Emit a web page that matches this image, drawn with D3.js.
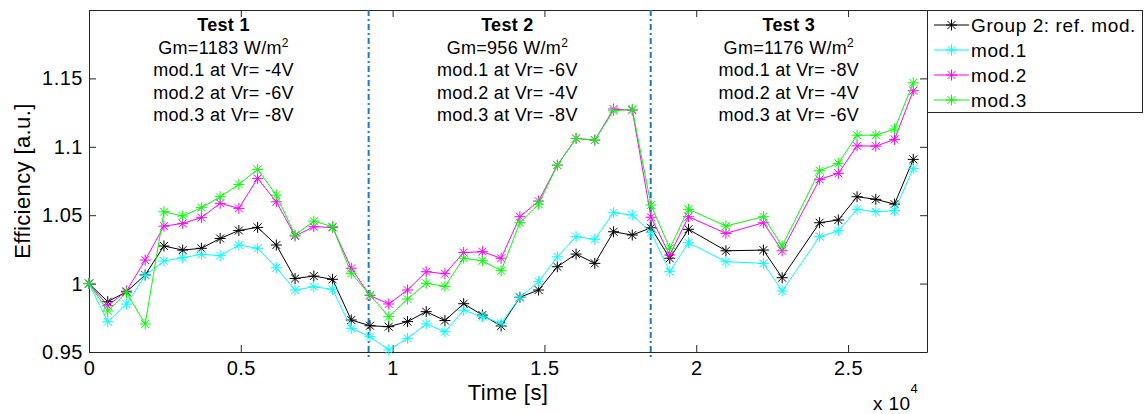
<!DOCTYPE html>
<html>
<head>
<meta charset="utf-8">
<script src="https://cdn.jsdelivr.net/npm/d3@7"></script>
<style>
  html, body { margin: 0; padding: 0; background: #fff; }
  svg { display: block; font-family: "Liberation Sans", Arial, Helvetica, sans-serif; }
</style>
</head>
<body>
<svg id="chart" width="1145" height="414"></svg>
<script>
// Sample times [s] (a few intervals in Test 3 have no record)
const timeSec = [0, 617, 1234, 1851, 2468, 3085, 3702, 4319, 4936, 5553, 6170, 6787, 7404, 8021, 8638,
  9255, 9872, 10489, 11106, 11723, 12340, 12957, 13574, 14191, 14808, 15425, 16042, 16659, 17276, 17893,
  18510, 19127, 19744, 20978, 22212, 22829, 24063, 24680, 25297, 25914, 26531, 27148];

// Normalised efficiency per module
const refMod = [1.000, 0.9868, 0.994, 1.0063, 1.0275, 1.0245, 1.0258, 1.033, 1.0388, 1.0411, 1.0282, 1.0037, 1.0055, 1.0031, 0.9734,
  0.9692, 0.9685, 0.9722, 0.9795, 0.9730, 0.9853, 0.977, 0.969, 0.990, 0.9953, 1.0123, 1.0216, 1.0148, 1.0379, 1.0355,
  1.0408, 1.0185, 1.0397, 1.024, 1.0245, 1.0043, 1.0445, 1.0465, 1.0635, 1.0616, 1.0581, 1.0908];
const mod1 = [1.000, 0.9721, 0.985, 1.006, 1.0165, 1.0189, 1.0214, 1.0204, 1.0282, 1.0258, 1.0116, 0.9953, 0.9977, 0.9958, 0.9673,
  0.9612, 0.9515, 0.960, 0.9705, 0.9648, 0.9805, 0.9758, 0.971, 0.990, 1.0014, 1.0196, 1.0343, 1.0324, 1.0518, 1.0501,
  1.0373, 1.0087, 1.0299, 1.016, 1.0148, 0.9946, 1.0343, 1.0386, 1.0543, 1.0525, 1.0533, 1.0842];
const mod2 = [1.000, 0.9838, 0.9945, 1.0172, 1.042, 1.044, 1.0482, 1.0587, 1.055, 1.0769, 1.0598, 1.0348, 1.0416, 1.0411, 1.0112,
  0.9912, 0.9851, 0.9953, 1.0087, 1.0072, 1.0227, 1.0233, 1.0185, 1.0489, 1.0603, 1.0866, 1.1061, 1.1049, 1.1276, 1.1268,
  1.0485, 1.0209, 1.0489, 1.0367, 1.0445, 1.024, 1.0762, 1.0806, 1.1007, 1.1005, 1.1054, 1.141];
const mod3 = [1.000, 0.980, 0.9934, 0.9705, 1.0525, 1.0494, 1.0555, 1.0635, 1.0725, 1.0835, 1.0647, 1.0355, 1.0457, 1.0416, 1.0075,
  0.9917, 0.9758, 0.9887, 1.0002, 0.998, 1.0185, 1.0167, 1.0094, 1.0445, 1.0581, 1.0866, 1.1061, 1.1049, 1.1263, 1.1274,
  1.0574, 1.0258, 1.0543, 1.0421, 1.0489, 1.0275, 1.0825, 1.0879, 1.1085, 1.1085, 1.113, 1.1468];

const seriesNames = ["Group 2: ref. mod.", "mod.1", "mod.2", "mod.3"];
const seriesValues = [refMod, mod1, mod2, mod3];
const seriesColors = ["#000000", "#00ffff", "#ff00ff", "#00ff00"];

const xTickValues = [0, 5000, 10000, 15000, 20000, 25000];
const xTickLabels = ["0", "0.5", "1", "1.5", "2", "2.5"];
const yTickValues = [0.95, 1, 1.05, 1.1, 1.15];
const yTickLabels = ["0.95", "1", "1.05", "1.1", "1.15"];

// Test sections
const testBoundaries = [9210, 18500];
const testCenters = [4430, 13780, 23050];
const testTitles = ["Test 1", "Test 2", "Test 3"];
const testIrradiance = ["Gm=1183 W/m", "Gm=956 W/m", "Gm=1176 W/m"];
const testSettings = [
  ["mod.1 at Vr= -4V", "mod.2 at Vr= -6V", "mod.3 at Vr= -8V"],
  ["mod.1 at Vr= -6V", "mod.2 at Vr= -4V", "mod.3 at Vr= -8V"],
  ["mod.1 at Vr= -8V", "mod.2 at Vr= -4V", "mod.3 at Vr= -6V"]
];

const svg = d3.select("#chart");
const axisColor = "#262626";

const x = d3.scaleLinear().domain([0, 27600]).range([89, 927]);
const y = d3.scaleLinear().domain([0.95, 1.2]).range([352, 10]);

function styleAxis(g, fontSize) {
  g.select(".domain").attr("stroke", axisColor);
  g.selectAll(".tick line").attr("stroke", axisColor);
  g.selectAll(".tick text")
    .attr("fill", "#000")
    .attr("font-size", fontSize)
    .attr("font-family", "Liberation Sans, Arial, sans-serif")
    .style("letter-spacing", "0.5px");
}

// Bottom axis with labels
svg.append("g")
  .attr("transform", `translate(0,${y(0.95)})`)
  .call(d3.axisBottom(x).tickValues(xTickValues).tickFormat((d, i) => xTickLabels[i])
    .tickSizeInner(-7).tickSizeOuter(0).tickPadding(9))
  .call(g => styleAxis(g, 20));

// Top axis (ticks only)
svg.append("g")
  .attr("transform", `translate(0,${y(1.2)})`)
  .call(d3.axisTop(x).tickValues(xTickValues).tickFormat(() => "").tickSizeInner(-7).tickSizeOuter(0))
  .call(g => styleAxis(g, 20));

// Left axis with labels
svg.append("g")
  .attr("transform", `translate(${x(0)},0)`)
  .call(d3.axisLeft(y).tickValues(yTickValues).tickFormat((d, i) => yTickLabels[i])
    .tickSizeInner(-7).tickSizeOuter(0).tickPadding(6))
  .call(g => styleAxis(g, 20));

// Right axis (ticks only)
svg.append("g")
  .attr("transform", `translate(${x(27600)},0)`)
  .call(d3.axisRight(y).tickValues(yTickValues).tickFormat(() => "").tickSizeInner(-7).tickSizeOuter(0))
  .call(g => styleAxis(g, 20));

// Axis titles
svg.append("text")
  .attr("transform", `translate(22,${(y(0.95) + y(1.2)) / 2}) rotate(-90)`)
  .attr("text-anchor", "middle")
  .attr("dy", "0.35em")
  .attr("font-size", 22)
  .style("letter-spacing", "0.4px")
  .attr("fill", "#000")
  .text("Efficiency [a.u.]");

svg.append("text")
  .attr("x", (x(0) + x(27600)) / 2)
  .attr("y", 400)
  .attr("text-anchor", "middle")
  .attr("font-size", 22)
  .style("letter-spacing", "0.4px")
  .attr("fill", "#000")
  .text("Time [s]");

// Exponent of the time axis
const expo = svg.append("text")
  .attr("x", 873)
  .attr("y", 410)
  .attr("font-size", 19)
  .attr("fill", "#000")
  .style("letter-spacing", "0.4px");
expo.append("tspan").text("x 10");
expo.append("tspan").attr("dy", -17).attr("font-size", 13).text("4");

// Section dividers
svg.append("g").selectAll("line")
  .data(testBoundaries)
  .join("line")
  .attr("x1", d => x(d)).attr("x2", d => x(d))
  .attr("y1", y(1.2)).attr("y2", y(0.95) + 5)
  .attr("stroke", "#1a78c8")
  .attr("stroke-width", 2)
  .attr("stroke-dasharray", "6,3,2,3");

// Section annotations
const notes = svg.append("g").attr("fill", "#000").attr("text-anchor", "middle");
testTitles.forEach((title, i) => {
  const cx = x(testCenters[i]);
  notes.append("text").attr("x", cx).attr("y", 31)
    .attr("font-size", 18).attr("font-weight", "bold").style("letter-spacing", "0.3px").text(title);
  const gm = notes.append("text").attr("x", cx).attr("y", 53.5)
    .attr("font-size", 18).style("letter-spacing", "0.3px");
  gm.append("tspan").text(testIrradiance[i]);
  gm.append("tspan").attr("dy", -7).attr("font-size", 12).text("2");
  testSettings[i].forEach((s, j) => {
    notes.append("text").attr("x", cx).attr("y", 76 + j * 22.5)
      .attr("font-size", 18).style("letter-spacing", "0.3px").text(s);
  });
});

// Asterisk marker (plus and cross combined)
const asterisk = {
  draw(ctx, size) {
    const r = Math.sqrt(size) / 2;
    const a = r * 0.72;
    ctx.moveTo(-r, 0); ctx.lineTo(r, 0);
    ctx.moveTo(0, -r); ctx.lineTo(0, r);
    ctx.moveTo(-a, -a); ctx.lineTo(a, a);
    ctx.moveTo(-a, a); ctx.lineTo(a, -a);
  }
};
const markerPath = d3.symbol().type(asterisk).size(121)();

const line = d3.line().x(d => x(d.t)).y(d => y(d.v));

seriesValues.forEach((vals, si) => {
  const pts = timeSec.map((t, i) => ({ t, v: vals[i] }));
  const g = svg.append("g");
  g.append("path")
    .datum(pts)
    .attr("d", line)
    .attr("fill", "none")
    .attr("stroke", seriesColors[si])
    .attr("stroke-width", 1);
  g.selectAll("path.mk")
    .data(pts)
    .join("path")
    .attr("class", "mk")
    .attr("transform", d => `translate(${x(d.t)},${y(d.v)})`)
    .attr("d", markerPath)
    .attr("fill", "none")
    .attr("stroke", seriesColors[si])
    .attr("stroke-width", 1);
});

// Legend
const legend = svg.append("g");
legend.append("rect")
  .attr("x", 927.5).attr("y", 10.5)
  .attr("width", 215).attr("height", 102)
  .attr("fill", "#fff")
  .attr("stroke", axisColor)
  .attr("stroke-width", 1);
const rowY = d3.scalePoint().domain(seriesNames).range([25, 100]);
seriesNames.forEach((name, i) => {
  const ry = rowY(name);
  legend.append("line")
    .attr("x1", 934).attr("x2", 969).attr("y1", ry).attr("y2", ry)
    .attr("stroke", seriesColors[i]).attr("stroke-width", 1);
  legend.append("path")
    .attr("transform", `translate(951.5,${ry})`)
    .attr("d", markerPath)
    .attr("fill", "none")
    .attr("stroke", seriesColors[i]).attr("stroke-width", 1);
  legend.append("text")
    .attr("x", 971).attr("y", ry).attr("dy", "0.36em")
    .attr("font-size", 19)
    .style("letter-spacing", "0.6px")
    .attr("fill", "#000")
    .text(name);
});
</script>
</body>
</html>
